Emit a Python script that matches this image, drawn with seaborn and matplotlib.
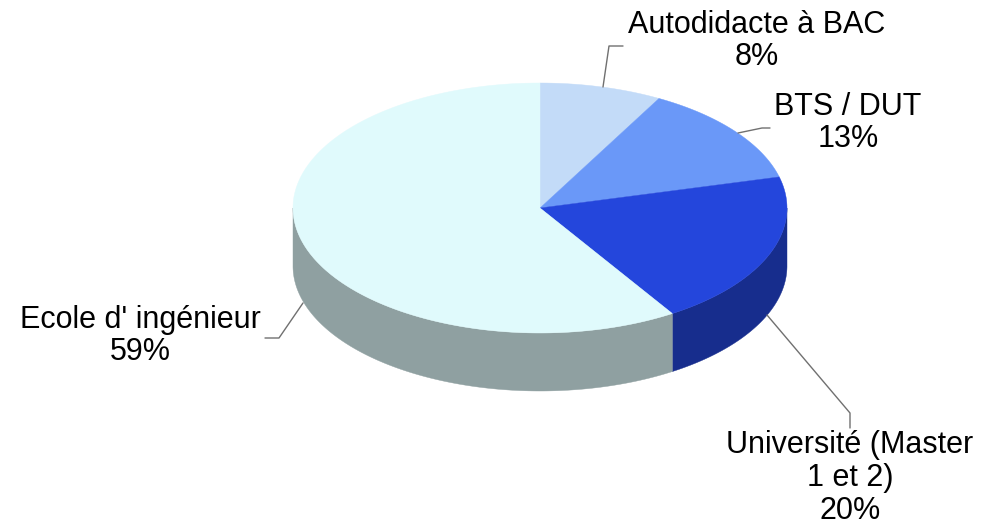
import numpy as np
import matplotlib
matplotlib.use("Agg")
import matplotlib.pyplot as plt
from matplotlib.patches import Polygon
import seaborn as sns

# ---- data ----
categories = ["Autodidacte à BAC", "BTS / DUT", "Université (Master\n1 et 2)", "Ecole d' ingénieur"]
values = [8, 13, 20, 59]
pct_labels = ["8%", "13%", "20%", "59%"]
top_colors = ["#C3DBF8", "#6A98F8", "#2446DC", "#E0FAFC"]

sns.set_theme(style="white")
plt.rcParams["font.family"] = ["Liberation Sans", "DejaVu Sans"]

W, H = 981, 525
fig = plt.figure(figsize=(W / 100, H / 100), dpi=100)
ax = fig.add_axes([0, 0, 1, 1])
ax.set_xlim(0, W)
ax.set_ylim(H, 0)
ax.axis("off")

cx, cy, rx, ry, depth = 540, 208, 247, 125, 58
shade = 0.64

def arc(a, b, n=200):
    ts = np.linspace(a, b, n)
    r = np.radians(ts)
    return np.column_stack([cx + rx * np.cos(r), cy - ry * np.sin(r)])

total = float(sum(values))
starts, ends = [], []
cur = 90.0
for v in values:
    starts.append(cur)
    cur -= 360.0 * v / total
    ends.append(cur)

# sides first
for s, e, col in zip(starts, ends, top_colors):
    a, b = min(s, 0.0), max(e, -180.0)
    if a > b:
        top = arc(a, b)
        bot = top[::-1].copy()
        bot[:, 1] += depth
        rgb = np.array(matplotlib.colors.to_rgb(col)) * shade
        ax.add_patch(Polygon(np.vstack([top, bot]), closed=True,
                             facecolor=rgb, edgecolor=rgb, linewidth=0.3, zorder=1))

# top faces
for s, e, col in zip(starts, ends, top_colors):
    pts = np.vstack([[cx, cy], arc(s, e)])
    ax.add_patch(Polygon(pts, closed=True, facecolor=col, edgecolor=col,
                         linewidth=0.3, zorder=2))

# leader lines
leaders = [
    [(603, 87), (609, 46), (623, 46)],
    [(738, 133), (762, 128), (770, 128)],
    [(767, 315), (850, 413), (850, 428)],
    [(303, 303), (279, 338), (265, 338)],
]
for ln in leaders:
    xs, ys = zip(*ln)
    ax.plot(xs, ys, color="#707070", lw=1.0, zorder=3)

label_pos = [(757, 41), (848, 123), (850, 478), (140, 336)]
for cat, p, (x, y) in zip(categories, pct_labels, label_pos):
    ax.text(x, y, f"{cat}\n{p}", ha="center", va="center", multialignment="center",
            fontsize=22, color="black", linespacing=1.13, zorder=4)

fig.savefig("out.png", dpi=100)
